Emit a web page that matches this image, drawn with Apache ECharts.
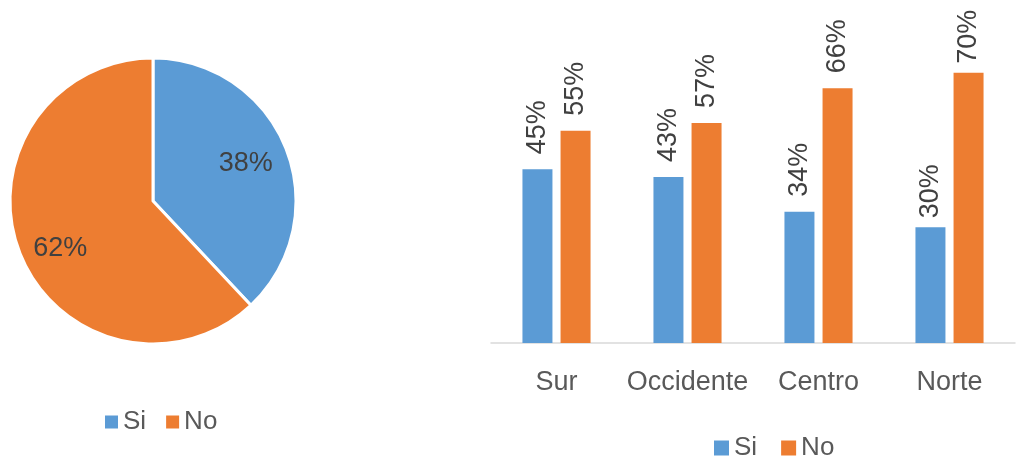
<!DOCTYPE html>
<html>
<head>
<meta charset="utf-8">
<style>html,body{margin:0;padding:0;background:#fff}#c{width:1024px;height:458px}</style>
<script src="https://cdn.jsdelivr.net/npm/echarts@6/dist/echarts.min.js"></script>
</head>
<body>
<div id="c"></div>
<script>
const seriesNames = ['Si', 'No'];
const pieValues = [38, 62];
const regions = ['Sur', 'Occidente', 'Centro', 'Norte'];
const siValues = [45, 43, 34, 30];
const noValues = [55, 57, 66, 70];

const FONT = '"Liberation Sans Narrow", "Arial Narrow", "Liberation Sans", sans-serif';
const BLUE = '#5B9BD5', ORANGE = '#ED7D31';

const chart = echarts.init(document.getElementById('c'));
const barLabel = {
  show: true, position: 'top', rotate: 90, align: 'left', verticalAlign: 'middle',
  distance: 15, formatter: '{c}%', fontFamily: FONT, fontSize: 27, color: '#404040'
};
function barData(vals) {
  return vals.map((v, i) => (i === 3 ? { value: v, label: { distance: 9 } } : v));
}
chart.setOption({
  animation: false,
  color: [BLUE, ORANGE],
  textStyle: { fontFamily: FONT },
  legend: [
    { data: seriesNames, left: 100, top: 404, itemWidth: 13, itemHeight: 13, itemGap: 20,
      icon: 'rect', textStyle: { fontFamily: FONT, fontSize: 26, color: '#595959' }, selectedMode: false },
    { data: seriesNames, left: 709, top: 430, itemWidth: 15, itemHeight: 15, itemGap: 24,
      icon: 'rect', textStyle: { fontFamily: FONT, fontSize: 26, color: '#595959' }, selectedMode: false }
  ],
  grid: { left: 491, right: 9, top: 53.5, height: 289.5 },
  xAxis: {
    type: 'category', data: regions,
    axisLine: { lineStyle: { color: '#D9D9D9', width: 1.5 } },
    axisTick: { show: false },
    axisLabel: { interval: 0, fontFamily: FONT, fontSize: 27, color: '#595959', margin: 26 }
  },
  yAxis: { type: 'value', min: 0, max: 75, show: false, splitLine: { show: false } },
  series: [
    { type: 'pie', name: 'pie', center: [153, 201], radius: [0, 143], startAngle: 90, clockwise: true,
      itemStyle: { borderColor: '#fff', borderWidth: 3 },
      label: { show: false }, labelLine: { show: false },
      data: seriesNames.map((n, i) => ({ name: n, value: pieValues[i] })) },
    { type: 'pie', name: 'pieLabels', center: [153, 201], radius: [57, 143], startAngle: 90, clockwise: true,
      silent: true, itemStyle: { color: 'rgba(0,0,0,0)' }, legendHoverLink: false,
      label: { show: true, position: 'inside', formatter: '{c}%', fontFamily: FONT, fontSize: 27, color: '#404040' },
      labelLine: { show: false },
      data: seriesNames.map((n, i) => ({ name: n, value: pieValues[i],
        label: i === 1 ? { offset: [3, 10] } : { offset: [-3, 0] } })) },
    { type: 'bar', name: 'Si', data: barData(siValues), barWidth: 30, barGap: '27%', label: barLabel, itemStyle: { color: BLUE } },
    { type: 'bar', name: 'No', data: barData(noValues), barWidth: 30, barGap: '27%', label: barLabel, itemStyle: { color: ORANGE } }
  ]
});
</script>
</body>
</html>
